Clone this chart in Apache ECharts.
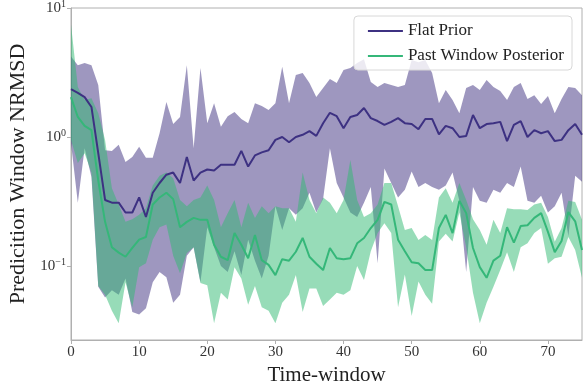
<!DOCTYPE html>
<html>
<head>
<meta charset="utf-8">
<script src="https://cdn.jsdelivr.net/npm/echarts@6/dist/echarts.min.js"></script>
<style>
  html, body { margin: 0; padding: 0; background: #fff; }
  #chart { width: 584px; height: 384px; }
</style>
</head>
<body>
<div id="chart"></div>
<script>
// Time-window index 0..75
const windows = Array.from({ length: 76 }, (_, i) => i);

// Flat Prior: mean NRMSD and band limits
const flatMean = [
  2.35, 2.2, 2.04, 1.71, 0.75, 0.325, 0.31, 0.31, 0.26, 0.26,
  0.34, 0.24, 0.37, 0.44, 0.51, 0.53, 0.44, 0.70, 0.46, 0.53,
  0.56, 0.55, 0.61, 0.61, 0.61, 0.78, 0.59, 0.72, 0.76, 0.79,
  0.95, 1.0, 0.91, 1.0, 1.04, 1.11, 1.02, 1.28, 1.54, 1.45,
  1.17, 1.43, 1.48, 1.68, 1.40, 1.33, 1.24, 1.31, 1.40, 1.28,
  1.26, 1.15, 1.38, 1.38, 1.05, 1.22, 1.17, 1.0, 1.02, 1.48,
  1.17, 1.26, 1.28, 1.31, 0.93, 1.24, 1.33, 1.0, 1.13, 1.07,
  1.11, 0.93, 0.95, 1.13, 1.26, 1.04
];
const flatUpper = [
  4.2, 3.6, 3.75, 3.6, 2.53, 0.79, 0.78, 0.87, 0.64, 0.70,
  0.84, 0.69, 0.69, 1.07, 1.87, 1.26, 1.43, 3.6, 0.82, 3.43,
  1.28, 1.83, 1.2, 1.45, 1.56, 1.38, 1.28, 1.83, 1.74, 1.62,
  1.83, 3.5, 1.83, 3.02, 3.13, 2.62, 2.04, 2.4, 2.81, 2.62,
  3.3, 3.43, 3.75, 4.0, 2.67, 2.44, 2.62, 2.53, 2.44, 2.53,
  3.95, 3.8, 3.95, 3.13, 1.83, 2.31, 1.94, 1.53, 2.4, 2.53,
  2.31, 2.77, 2.44, 2.27, 1.94, 2.44, 2.62, 1.97, 2.11, 1.8,
  2.08, 1.53, 1.97, 2.44, 2.4, 2.11
];
const flatLower = [
  0.9, 0.31, 0.82, 0.49, 0.069, 0.057, 0.065, 0.06, 0.08, 0.044,
  0.042, 0.047, 0.075, 0.09, 0.082, 0.052, 0.06, 0.12, 0.14, 0.075,
  0.2, 0.14, 0.1, 0.09, 0.13, 0.085, 0.16, 0.11, 0.08, 0.12,
  0.29, 0.19, 0.28, 0.25, 0.28, 0.37, 0.26, 0.33, 0.82, 0.44,
  0.34, 0.26, 0.24, 0.31, 0.41, 0.105, 0.57, 0.44, 0.34, 0.39,
  0.54, 0.41, 0.44, 0.41, 0.39, 0.42, 0.53, 0.32, 0.09, 0.41,
  0.32, 0.31, 0.39, 0.37, 0.44, 0.41, 0.59, 0.32, 0.31, 0.35,
  0.26, 0.29, 0.37, 0.17, 0.5, 0.45
];

// Past Window Posterior: mean NRMSD and band limits
const pastMean = [
  2.04, 1.43, 1.22, 1.13, 0.46, 0.22, 0.14, 0.127, 0.118, 0.138,
  0.16, 0.168, 0.3, 0.34, 0.37, 0.33, 0.2, 0.22, 0.236, 0.228,
  0.228, 0.146, 0.118, 0.111, 0.18, 0.146, 0.115, 0.174, 0.111, 0.102,
  0.085, 0.113, 0.11, 0.129, 0.165, 0.118, 0.104, 0.093, 0.138, 0.115,
  0.113, 0.115, 0.15, 0.165, 0.197, 0.228, 0.314, 0.30, 0.16, 0.13,
  0.107, 0.105, 0.093, 0.093, 0.197, 0.249, 0.18, 0.32, 0.257, 0.138,
  0.098, 0.081, 0.11, 0.12, 0.2, 0.152, 0.204, 0.207, 0.236, 0.257,
  0.184, 0.128, 0.156, 0.262, 0.222, 0.133
];
const pastUpper = [
  7.4, 2.44, 1.94, 2.0, 1.53, 0.95, 0.4, 0.3, 0.22, 0.23,
  0.25, 0.28, 0.42, 0.5, 0.53, 0.48, 0.325, 0.29, 0.325, 0.34,
  0.42, 0.325, 0.2, 0.257, 0.325, 0.2, 0.31, 0.236, 0.29, 0.257,
  0.29, 0.28, 0.28, 0.22, 0.53, 0.325, 0.257, 0.34, 0.31, 0.257,
  0.325, 0.663, 0.325, 0.24, 0.257, 0.3, 0.44, 0.44, 0.29, 0.19,
  0.197, 0.159, 0.174, 0.159, 0.34, 0.4, 0.31, 0.44, 0.325, 0.23,
  0.19, 0.146, 0.228, 0.18, 0.28, 0.276, 0.276, 0.272, 0.3, 0.31,
  0.24, 0.154, 0.197, 0.32, 0.314, 0.228
];
const pastLower = [
  0.95, 0.63, 0.75, 0.53, 0.07, 0.06, 0.045, 0.036, 0.075, 0.048,
  0.098, 0.105, 0.16, 0.2, 0.21, 0.12, 0.088, 0.126, 0.14, 0.074,
  0.071, 0.036, 0.062, 0.055, 0.098, 0.08, 0.05, 0.07, 0.048, 0.045,
  0.036, 0.052, 0.06, 0.085, 0.044, 0.067, 0.067, 0.049, 0.055, 0.062,
  0.06, 0.065, 0.1, 0.078, 0.13, 0.18, 0.215, 0.18, 0.048, 0.086,
  0.041, 0.076, 0.06, 0.051, 0.155, 0.178, 0.155, 0.26, 0.14, 0.062,
  0.036, 0.052, 0.069, 0.093, 0.128, 0.09, 0.14, 0.15, 0.18, 0.197,
  0.104, 0.115, 0.118, 0.168, 0.133, 0.081
];

const PURPLE = '#3d3182';
const GREEN = '#35b779';
const SERIF = 'Liberation Serif';

const pairs = (arr) => arr.map((v, i) => [windows[i], v]);

const chart = echarts.init(document.getElementById('chart'), null, { renderer: 'canvas' });

// Shaded band between lo and hi, drawn as one polygon through the axes' own mapping
function bandSeries(name, lo, hi, color) {
  return {
    name: name + ' band',
    type: 'custom',
    clip: true,
    silent: true,
    z: 1,
    data: windows.map((x, i) => [x, lo[i], hi[i]]),
    encode: { x: 0, y: [1, 2] },
    renderItem: (params, api) => {
      if (params.dataIndex !== 0) return null;
      const top = windows.map((x, i) => api.coord([x, hi[i]]));
      const bottom = windows.map((x, i) => api.coord([x, lo[i]])).reverse();
      return {
        type: 'polygon',
        shape: { points: top.concat(bottom) },
        style: { fill: color },
      };
    },
  };
}

const option = {
  backgroundColor: '#ffffff',
  animation: false,
  grid: {
    left: 71, right: 2, top: 8, bottom: 44,
    outerBoundsMode: 'none',
    containLabel: false,
    show: true, borderColor: '#b0b0b0', borderWidth: 1,
  },
  legend: {
    data: [
      { name: 'Flat Prior', icon: 'rect' },
      { name: 'Past Window Posterior', icon: 'rect' },
    ],
    right: 12,
    top: 16,
    orient: 'vertical',
    itemWidth: 35,
    itemHeight: 2,
    itemGap: 7,
    padding: [6, 8, 5, 14],
    backgroundColor: 'rgba(255,255,255,0.8)',
    borderColor: '#d8d8d8',
    borderWidth: 1,
    borderRadius: 4,
    textStyle: { fontFamily: SERIF, fontSize: 17, color: '#222', lineHeight: 18 },
  },
  xAxis: {
    type: 'value',
    min: 0,
    max: 75,
    interval: 10,
    name: 'Time-window',
    nameLocation: 'middle',
    nameGap: 15,
    nameTextStyle: { fontFamily: SERIF, fontSize: 21, color: '#222' },
    axisLine: { lineStyle: { color: '#b0b0b0' } },
    axisTick: { show: true, length: 4, lineStyle: { color: '#b0b0b0' } },
    axisLabel: {
      fontFamily: SERIF, fontSize: 15, color: '#333', margin: 5,
      showMaxLabel: false,
    },
    splitLine: { show: false },
  },
  yAxis: {
    type: 'log',
    logBase: 10,
    min: 0.0267,
    max: 10,
    name: 'Predicition Window NRMSD',
    nameLocation: 'middle',
    nameGap: 35,
    nameTextStyle: { fontFamily: SERIF, fontSize: 22, color: '#222' },
    axisLine: { show: true, lineStyle: { color: '#b0b0b0' } },
    axisTick: { show: true, length: 4, lineStyle: { color: '#b0b0b0' } },
    axisLabel: {
      showMinLabel: false,
      margin: 5,
      formatter: (v) => {
        const e = Math.round(Math.log10(v));
        const s = e < 0 ? '\u2212' + Math.abs(e) : String(e);
        return '{b|10}{s|' + s + '}';
      },
      rich: {
        b: { fontFamily: SERIF, fontSize: 15, color: '#333' },
        s: { fontFamily: SERIF, fontSize: 10, color: '#333', padding: [0, 0, 8, 0] },
      },
    },
    splitLine: { show: false },
  },
  series: [
    bandSeries('Flat Prior', flatLower, flatUpper, 'rgba(61,47,127,0.5)'),
    bandSeries('Past Window Posterior', pastLower, pastUpper, 'rgba(47,185,113,0.5)'),
    {
      name: 'Flat Prior',
      type: 'line',
      data: pairs(flatMean),
      symbol: 'none',
      color: PURPLE,
      lineStyle: { color: PURPLE, width: 2 },
      z: 3,
    },
    {
      name: 'Past Window Posterior',
      type: 'line',
      data: pairs(pastMean),
      symbol: 'none',
      color: GREEN,
      lineStyle: { color: GREEN, width: 2 },
      z: 3,
    },
  ],
};

chart.setOption(option);
</script>
</body>
</html>
